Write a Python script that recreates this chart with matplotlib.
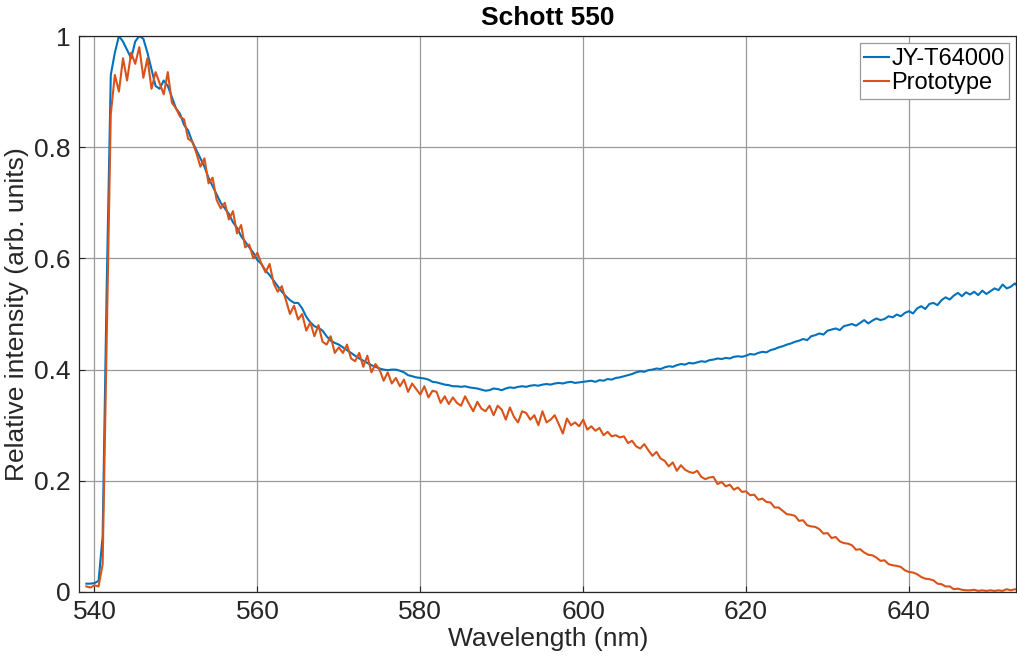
import numpy as np
import matplotlib
matplotlib.use("Agg")
import matplotlib.pyplot as plt
from matplotlib.ticker import FuncFormatter

# sampling grid of the spectra (nm), 0.5 nm step
wl_start = 539.0
wl_step = 0.5

# JY-T64000 reference spectrometer
jy = [
    0.015, 0.015, 0.016, 0.020, 0.100, 0.550, 0.930, 0.970, 1.000, 0.990,   # 539.0 - 543.5
    0.975, 0.960, 0.990, 1.000, 0.995, 0.970, 0.940, 0.910, 0.905, 0.920,   # 544.0 - 548.5
    0.910, 0.890, 0.870, 0.860, 0.840, 0.830, 0.810, 0.795, 0.780, 0.765,   # 549.0 - 553.5
    0.745, 0.730, 0.715, 0.700, 0.690, 0.680, 0.665, 0.655, 0.640, 0.630,   # 554.0 - 558.5
    0.620, 0.610, 0.597, 0.590, 0.578, 0.570, 0.560, 0.550, 0.540, 0.532,   # 559.0 - 563.5
    0.525, 0.520, 0.520, 0.510, 0.495, 0.485, 0.478, 0.475, 0.470, 0.460,   # 564.0 - 568.5
    0.452, 0.448, 0.445, 0.440, 0.435, 0.430, 0.425, 0.420, 0.416, 0.412,   # 569.0 - 573.5
    0.408, 0.405, 0.402, 0.400, 0.399, 0.400, 0.400, 0.398, 0.395, 0.390,   # 574.0 - 578.5
    0.388, 0.386, 0.385, 0.384, 0.382, 0.378, 0.377, 0.375, 0.373, 0.372,   # 579.0 - 583.5
    0.370, 0.370, 0.369, 0.370, 0.368, 0.367, 0.366, 0.364, 0.362, 0.363,   # 584.0 - 588.5
    0.366, 0.365, 0.363, 0.366, 0.368, 0.367, 0.369, 0.370, 0.369, 0.371,   # 589.0 - 593.5
    0.372, 0.371, 0.373, 0.374, 0.373, 0.375, 0.376, 0.375, 0.377, 0.378,   # 594.0 - 598.5
    0.376, 0.377, 0.378, 0.379, 0.380, 0.378, 0.381, 0.380, 0.383, 0.382,   # 599.0 - 603.5
    0.385, 0.386, 0.388, 0.390, 0.392, 0.395, 0.397, 0.396, 0.399, 0.400,   # 604.0 - 608.5
    0.402, 0.401, 0.404, 0.406, 0.405, 0.408, 0.410, 0.409, 0.412, 0.411,   # 609.0 - 613.5
    0.413, 0.415, 0.414, 0.417, 0.418, 0.420, 0.419, 0.421, 0.420, 0.423,   # 614.0 - 618.5
    0.424, 0.423, 0.425, 0.428, 0.427, 0.430, 0.432, 0.431, 0.435, 0.437,   # 619.0 - 623.5
    0.440, 0.442, 0.445, 0.447, 0.450, 0.452, 0.455, 0.453, 0.460, 0.462,   # 624.0 - 628.5
    0.465, 0.463, 0.470, 0.472, 0.474, 0.471, 0.478, 0.480, 0.482, 0.479,   # 629.0 - 633.5
    0.484, 0.489, 0.483, 0.488, 0.492, 0.489, 0.491, 0.496, 0.494, 0.499,   # 634.0 - 638.5
    0.496, 0.502, 0.505, 0.501, 0.510, 0.514, 0.509, 0.518, 0.520, 0.516,   # 639.0 - 643.5
    0.525, 0.530, 0.526, 0.533, 0.538, 0.532, 0.539, 0.535, 0.540, 0.534,   # 644.0 - 648.5
    0.542, 0.536, 0.541, 0.546, 0.543, 0.553, 0.546, 0.549, 0.555, 0.548,   # 649.0 - 653.5
]

# prototype spectrometer
proto = [
    0.010, 0.008, 0.012, 0.010, 0.050, 0.450, 0.860, 0.930, 0.900, 0.960,   # 539.0 - 543.5
    0.920, 0.970, 0.950, 0.980, 0.925, 0.960, 0.905, 0.935, 0.915, 0.895,   # 544.0 - 548.5
    0.935, 0.880, 0.870, 0.855, 0.850, 0.815, 0.810, 0.790, 0.765, 0.780,   # 549.0 - 553.5
    0.735, 0.745, 0.705, 0.690, 0.700, 0.670, 0.685, 0.645, 0.660, 0.620,   # 554.0 - 558.5
    0.625, 0.600, 0.610, 0.590, 0.575, 0.590, 0.555, 0.540, 0.550, 0.525,   # 559.0 - 563.5
    0.500, 0.515, 0.490, 0.500, 0.470, 0.485, 0.460, 0.480, 0.450, 0.445,   # 564.0 - 568.5
    0.460, 0.430, 0.440, 0.430, 0.445, 0.420, 0.415, 0.430, 0.405, 0.425,   # 569.0 - 573.5
    0.395, 0.410, 0.400, 0.380, 0.395, 0.375, 0.385, 0.370, 0.382, 0.360,   # 574.0 - 578.5
    0.375, 0.365, 0.355, 0.370, 0.350, 0.362, 0.360, 0.340, 0.352, 0.338,   # 579.0 - 583.5
    0.350, 0.340, 0.335, 0.352, 0.338, 0.325, 0.342, 0.330, 0.325, 0.335,   # 584.0 - 588.5
    0.318, 0.335, 0.328, 0.310, 0.332, 0.315, 0.305, 0.325, 0.322, 0.310,   # 589.0 - 593.5
    0.318, 0.300, 0.325, 0.305, 0.310, 0.318, 0.302, 0.285, 0.312, 0.300,   # 594.0 - 598.5
    0.305, 0.298, 0.310, 0.292, 0.298, 0.290, 0.295, 0.282, 0.288, 0.280,   # 599.0 - 603.5
    0.282, 0.278, 0.280, 0.268, 0.272, 0.262, 0.258, 0.266, 0.255, 0.245,   # 604.0 - 608.5
    0.252, 0.240, 0.236, 0.226, 0.233, 0.218, 0.228, 0.220, 0.216, 0.214,   # 609.0 - 613.5
    0.218, 0.207, 0.203, 0.206, 0.207, 0.194, 0.198, 0.190, 0.193, 0.184,   # 614.0 - 618.5
    0.188, 0.180, 0.181, 0.174, 0.175, 0.166, 0.168, 0.162, 0.161, 0.152,   # 619.0 - 623.5
    0.152, 0.146, 0.140, 0.139, 0.137, 0.128, 0.129, 0.120, 0.118, 0.117,   # 624.0 - 628.5
    0.113, 0.105, 0.106, 0.097, 0.099, 0.091, 0.088, 0.087, 0.084, 0.076,   # 629.0 - 633.5
    0.077, 0.071, 0.067, 0.066, 0.062, 0.056, 0.057, 0.050, 0.048, 0.047,   # 634.0 - 638.5
    0.045, 0.039, 0.036, 0.035, 0.032, 0.027, 0.024, 0.023, 0.021, 0.015,   # 639.0 - 643.5
    0.014, 0.010, 0.010, 0.005, 0.006, 0.004, 0.003, 0.003, 0.004, 0.002,   # 644.0 - 648.5
    0.003, 0.002, 0.003, 0.002, 0.003, 0.002, 0.005, 0.003, 0.005, 0.004,   # 649.0 - 653.5
]

series_labels = ["JY-T64000", "Prototype"]
x_ticks = [540, 560, 580, 600, 620, 640]
y_ticks = [0, 0.2, 0.4, 0.6, 0.8, 1]

wl = wl_start + wl_step * np.arange(len(jy))

plt.rcParams["font.family"] = ["Liberation Sans", "DejaVu Sans"]

fig = plt.figure(figsize=(10.17, 6.63), dpi=100)
ax = fig.add_axes([0.0777, 0.1071, 0.9218, 0.8386])

ax.plot(wl, jy, color="#0072BD", lw=1.5, label=series_labels[0])
ax.plot(wl, proto, color="#D95319", lw=1.5, label=series_labels[1])

ax.set_xlim(538.1, 653.2)
ax.set_ylim(0, 1)
ax.set_xticks(x_ticks)
ax.set_yticks(y_ticks)
ax.yaxis.set_major_formatter(FuncFormatter(lambda v, p: f"{v:g}"))
ax.tick_params(direction="in", length=4, labelsize=19, colors="#262626", pad=6)
ax.grid(True, color="#9a9a9a", lw=0.9)
ax.set_axisbelow(True)
for s in ax.spines.values():
    s.set_color("#262626")
    s.set_linewidth(0.9)

ax.set_xlabel("Wavelength (nm)", fontsize=19, color="#262626", labelpad=2)
ax.set_ylabel("Relative intensity (arb. units)", fontsize=19, color="#262626", labelpad=4)
ax.set_title("Schott 550", fontsize=19, fontweight="bold", pad=8)

leg = ax.legend(loc="upper right", fontsize=17, handlelength=1.05, handletextpad=0.1,
                borderpad=0.2, labelspacing=0.1, fancybox=False, framealpha=1,
                borderaxespad=0.3)
leg.get_frame().set_edgecolor("#9a9a9a")
leg.get_frame().set_linewidth(0.9)

fig.savefig("out.png", dpi=100)
